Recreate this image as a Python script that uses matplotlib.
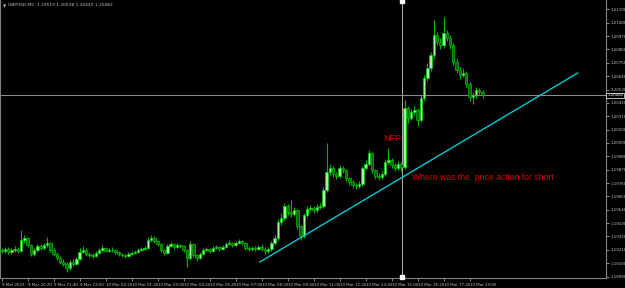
import matplotlib
matplotlib.use("Agg")
import matplotlib.pyplot as plt
import numpy as np

# GBPUSD M5 bars (two M5 candles per bar)
first_open = 1.19210
closes = [
    1.19202, 1.19218, 1.19193, 1.19210, 1.19218, 1.19202, 1.19292, 1.19309, 1.19251, 1.19177,
    1.19210, 1.19243, 1.19226, 1.19251, 1.19267, 1.19210, 1.19177, 1.19144, 1.19111, 1.19095,
    1.19062, 1.19111, 1.19095, 1.19136, 1.19193, 1.19210, 1.19177, 1.19169, 1.19160, 1.19185,
    1.19210, 1.19226, 1.19202, 1.19210, 1.19210, 1.19193, 1.19177, 1.19169, 1.19160, 1.19177,
    1.19185, 1.19193, 1.19210, 1.19218, 1.19226, 1.19292, 1.19309, 1.19284, 1.19259, 1.19210,
    1.19185, 1.19243, 1.19259, 1.19234, 1.19251, 1.19243, 1.19210, 1.19144, 1.19259, 1.19169,
    1.19144, 1.19177, 1.19210, 1.19218, 1.19202, 1.19226, 1.19234, 1.19218, 1.19234, 1.19259,
    1.19267, 1.19251, 1.19267, 1.19284, 1.19267, 1.19226, 1.19218, 1.19226, 1.19218, 1.19234,
    1.19218, 1.19202, 1.19218, 1.19267, 1.19309, 1.19440, 1.19473, 1.19572, 1.19522, 1.19506,
    1.19539, 1.19407, 1.19325, 1.19498, 1.19547, 1.19555, 1.19539, 1.19564, 1.19572, 1.19704,
    1.19852, 1.19885, 1.19835, 1.19819, 1.19885, 1.19868, 1.19802, 1.19769, 1.19745, 1.19736,
    1.19753, 1.19885, 1.19918, 1.20008, 1.19868, 1.19819, 1.19811, 1.19835, 1.19934, 1.19950,
    1.19909, 1.19885, 1.19918, 1.19893, 1.20378, 1.20296, 1.20346, 1.20362, 1.20280, 1.20461,
    1.20625, 1.20708, 1.20815, 1.20979, 1.20922, 1.20897, 1.20996, 1.20955, 1.20897, 1.20757,
    1.20691, 1.20650, 1.20667, 1.20576, 1.20469, 1.20485, 1.20527, 1.20510, 1.20482,
]
highs = [
    1.19226, 1.19234, 1.19234, 1.19226, 1.19243, 1.19234, 1.19374, 1.19333, 1.19317, 1.19259,
    1.19226, 1.19259, 1.19259, 1.19267, 1.19317, 1.19276, 1.19226, 1.19193, 1.19160, 1.19136,
    1.19111, 1.19128, 1.19136, 1.19152, 1.19226, 1.19243, 1.19226, 1.19193, 1.19185, 1.19202,
    1.19226, 1.19251, 1.19234, 1.19226, 1.19234, 1.19218, 1.19202, 1.19185, 1.19177, 1.19193,
    1.19202, 1.19210, 1.19226, 1.19234, 1.19243, 1.19317, 1.19333, 1.19325, 1.19292, 1.19267,
    1.19218, 1.19259, 1.19276, 1.19267, 1.19267, 1.19259, 1.19251, 1.19218, 1.19284, 1.19267,
    1.19177, 1.19193, 1.19226, 1.19234, 1.19226, 1.19243, 1.19251, 1.19243, 1.19251, 1.19276,
    1.19292, 1.19276, 1.19284, 1.19300, 1.19292, 1.19276, 1.19243, 1.19243, 1.19243, 1.19251,
    1.19259, 1.19234, 1.19234, 1.19284, 1.19333, 1.19465, 1.19514, 1.19597, 1.19588, 1.19621,
    1.19564, 1.19547, 1.19415, 1.19514, 1.19572, 1.19580, 1.19572, 1.19588, 1.19597, 1.19728,
    1.20090, 1.19918, 1.19901, 1.19852, 1.19910, 1.19901, 1.19877, 1.19811, 1.19786, 1.19761,
    1.19778, 1.19901, 1.19950, 1.20033, 1.20016, 1.19877, 1.19844, 1.19860, 1.19959, 1.20049,
    1.19967, 1.19926, 1.19942, 1.19934, 1.20444, 1.20395, 1.20370, 1.20395, 1.20378, 1.20485,
    1.20650, 1.20749, 1.20840, 1.21103, 1.21004, 1.20955, 1.21128, 1.21021, 1.20980, 1.20914,
    1.20782, 1.20716, 1.20708, 1.20683, 1.20592, 1.20510, 1.20551, 1.20543, 1.20527,
]
lows = [
    1.19185, 1.19185, 1.19177, 1.19177, 1.19193, 1.19185, 1.19193, 1.19267, 1.19234, 1.19160,
    1.19160, 1.19193, 1.19210, 1.19210, 1.19234, 1.19193, 1.19160, 1.19128, 1.19095, 1.19078,
    1.19029, 1.19045, 1.19078, 1.19087, 1.19128, 1.19185, 1.19160, 1.19152, 1.19144, 1.19152,
    1.19177, 1.19202, 1.19193, 1.19193, 1.19193, 1.19177, 1.19160, 1.19152, 1.19144, 1.19152,
    1.19169, 1.19177, 1.19185, 1.19202, 1.19210, 1.19218, 1.19276, 1.19267, 1.19243, 1.19193,
    1.19169, 1.19177, 1.19234, 1.19218, 1.19226, 1.19226, 1.19193, 1.19070, 1.19128, 1.19152,
    1.19120, 1.19136, 1.19169, 1.19202, 1.19185, 1.19193, 1.19218, 1.19202, 1.19210, 1.19226,
    1.19251, 1.19234, 1.19243, 1.19259, 1.19251, 1.19210, 1.19202, 1.19202, 1.19202, 1.19210,
    1.19202, 1.19177, 1.19185, 1.19202, 1.19251, 1.19292, 1.19415, 1.19457, 1.19498, 1.19481,
    1.19490, 1.19383, 1.19292, 1.19309, 1.19481, 1.19531, 1.19514, 1.19522, 1.19547, 1.19555,
    1.19687, 1.19827, 1.19811, 1.19794, 1.19802, 1.19844, 1.19778, 1.19745, 1.19720, 1.19712,
    1.19720, 1.19736, 1.19868, 1.19901, 1.19844, 1.19794, 1.19786, 1.19794, 1.19819, 1.19918,
    1.19885, 1.19860, 1.19868, 1.19860, 1.19877, 1.20255, 1.20280, 1.20320, 1.20230, 1.20263,
    1.20436, 1.20600, 1.20683, 1.20790, 1.20897, 1.20864, 1.20872, 1.20930, 1.20864, 1.20733,
    1.20667, 1.20617, 1.20634, 1.20551, 1.20436, 1.20411, 1.20461, 1.20485, 1.20461,
]

price_ticks = [1.18990, 1.19100, 1.19210, 1.19320, 1.19430, 1.19540, 1.19650, 1.19760,
               1.19870, 1.19980, 1.20090, 1.20200, 1.20310, 1.20420, 1.20530, 1.20640,
               1.20750, 1.20860, 1.20970, 1.21080, 1.21190]
time_labels = ["9 Mar 2023", "9 Mar 20:20", "9 Mar 21:40", "9 Mar 23:00", "10 Mar 00:20",
               "10 Mar 01:40", "10 Mar 03:00", "10 Mar 04:20", "10 Mar 05:40", "10 Mar 07:00",
               "10 Mar 08:20", "10 Mar 09:40", "10 Mar 11:00", "10 Mar 12:20", "10 Mar 13:40",
               "10 Mar 15:00", "10 Mar 16:20", "10 Mar 17:40", "10 Mar 19:00"]
header = "GBPUSD,M5  1.20519 1.20538 1.20440 1.20482"
cross_price = 1.20482

closes = np.array(closes)
opens = np.concatenate([[first_open], closes[:-1]])
highs = np.array(highs)
lows = np.array(lows)
idx = np.arange(len(closes))

fg = "#c0c0c0"
ymin, ymax = 1.18979, 1.21267
fig = plt.figure(figsize=(6.25, 2.88), dpi=100, facecolor="black")
ax = fig.add_axes([0.0, 0.035, 0.9696, 0.965], facecolor="black")

ax.vlines(idx, lows, highs, color="#00b400", lw=0.8, zorder=2)
up = closes >= opens
body_lo = np.minimum(opens, closes)
body_h = np.maximum(np.abs(closes - opens), 0.00002)
ax.bar(idx[up], body_h[up], bottom=body_lo[up], width=0.75,
       color="#9cf59c", edgecolor="#00d000", lw=0.5, zorder=3)
ax.bar(idx[~up], body_h[~up], bottom=body_lo[~up], width=0.75,
       color="#006400", edgecolor="#00c000", lw=0.5, zorder=3)

ax.set_xlim(-0.5, 186.0)
ax.set_ylim(ymin, ymax)

# trend line
ax.plot([79.5, 177.3], [1.19111, 1.20666], color="#00c8d2", lw=1.0, zorder=4)

# crosshair
ax.axvline(123.2, color="#b0b0b0", lw=0.7, zorder=1)
ax.axhline(cross_price, color="#909090", lw=0.7, zorder=1)
ax.plot([123.2, 123.2], [1.21262, 1.18985], ls="none", marker="s", ms=2.5,
        color="white", clip_on=False, zorder=5)

ax.text(120.1, 1.20125, "NFP", color="#e00000", fontsize=6.5,
        family="Liberation Sans", ha="center", va="center")
ax.text(126.3, 1.19802, "Where was the  price action for short", color="#e00000",
        fontsize=6.2, family="Liberation Sans", ha="left", va="center")

ax.text(0.005, 0.985, "\u25bc", transform=ax.transAxes, color=fg, fontsize=3,
        ha="left", va="top")
ax.text(0.013, 0.988, header, transform=ax.transAxes, color=fg, fontsize=3.2,
        ha="left", va="top")

ax.yaxis.tick_right()
ax.set_yticks(price_ticks)
ax.set_yticklabels([f"{p:.5f}" for p in price_ticks])
ax.set_xticks(idx[::8][:len(time_labels)])
ax.set_xticklabels(time_labels, ha="left")
ax.tick_params(colors=fg, labelsize=2.9, length=2, width=0.5, pad=1)
ax.tick_params(axis="x", pad=2)
for s in ax.spines.values():
    s.set_color("#808080")
    s.set_linewidth(0.8)
ax.spines["top"].set_visible(False)

ax.text(1.002, (cross_price - ymin) / (ymax - ymin), f"{cross_price:.5f}",
        transform=ax.transAxes, color="white", fontsize=2.9, ha="left", va="center",
        bbox=dict(boxstyle="square,pad=0.2", fc="black", ec="white", lw=0.5))

fig.savefig("out.png", dpi=100, facecolor="black")
